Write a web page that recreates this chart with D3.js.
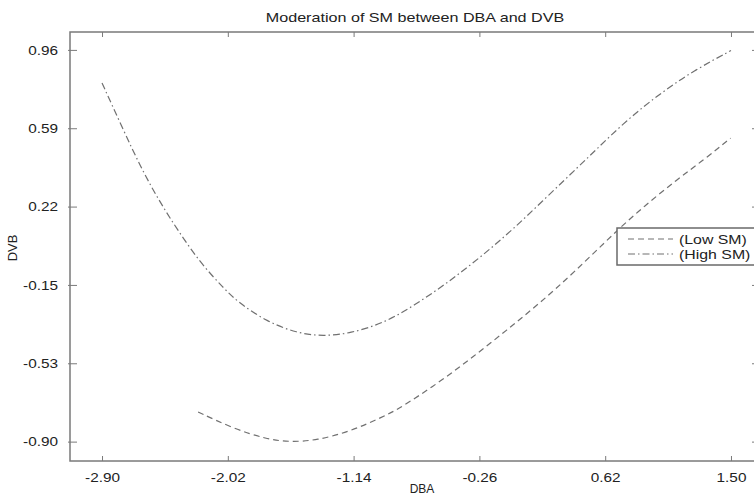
<!DOCTYPE html>
<html>
<head>
<meta charset="utf-8">
<script src="https://cdn.jsdelivr.net/npm/d3@7"></script>
<style>
  body { margin: 0; background: #fff; }
  svg { display: block; font-family: "Liberation Sans", Arial, sans-serif; }
  .axis path, .axis line { stroke: #7a7a7a; }
  .axis text { fill: #222; font-size: 13px; }
</style>
</head>
<body>
<svg id="chart" width="754" height="495"></svg>
<script>
// tick values and labels
var xTicks = [-2.90, -2.02, -1.14, -0.26, 0.62, 1.50];
var yTicks = [0.96, 0.588, 0.216, -0.156, -0.528, -0.90];
var yTickLabels = ["0.96", "0.59", "0.22", "-0.15", "-0.53", "-0.90"];

// Low SM (dashed)
var lowX = [-2.228, -1.981, -1.747, -1.584, -1.397, -1.164, -0.931, -0.814, -0.534, -0.301, -0.067, 0.166, 0.400, 0.705, 0.890, 1.123, 1.310, 1.497];
var lowY = [-0.759, -0.838, -0.889, -0.902, -0.894, -0.852, -0.781, -0.741, -0.615, -0.496, -0.370, -0.240, -0.098, 0.105, 0.216, 0.345, 0.438, 0.541];

// High SM (dash-dot)
var highX = [-2.90, -2.751, -2.634, -2.517, -2.377, -2.214, -2.051, -1.946, -1.747, -1.537, -1.351, -1.164, -0.931, -0.721, -0.487, -0.254, -0.021, 0.213, 0.446, 0.539, 0.773, 1.006, 1.240, 1.50];
var highY = [0.803, 0.580, 0.410, 0.262, 0.110, -0.050, -0.170, -0.240, -0.330, -0.385, -0.400, -0.386, -0.338, -0.256, -0.148, -0.025, 0.110, 0.263, 0.414, 0.475, 0.628, 0.754, 0.862, 0.957];

var legendLabels = ["(Low SM)", "(High SM)"];

var svg = d3.select("#chart"),
    margin = {top: 32, right: -3, bottom: 34, left: 70},
    width = +svg.attr("width") - margin.left - margin.right,
    height = +svg.attr("height") - margin.top - margin.bottom,
    g = svg.append("g").attr("transform", "translate(" + margin.left + "," + margin.top + ")");

var x = d3.scaleLinear()
    .domain([-3.124, 1.682])
    .range([0, width]);

var y = d3.scaleLinear()
    .domain([-0.992, 1.045])
    .range([height, 0]);

// stretch text horizontally, the picture is a bit wider than tall
function stretch(sel, k) {
    sel.each(function () {
        var len = this.getComputedTextLength();
        d3.select(this).attr("textLength", len * k).attr("lengthAdjust", "spacingAndGlyphs");
    });
}

// box with inward ticks
g.append("rect")
    .attr("width", width)
    .attr("height", height)
    .attr("fill", "none")
    .attr("stroke", "#7a7a7a")
    .attr("stroke-width", 1.5);

var xb = g.append("g")
    .attr("class", "axis")
    .attr("transform", "translate(0," + height + ")")
    .call(d3.axisBottom(x).tickValues(xTicks).tickSize(-5).tickPadding(12)
        .tickFormat(function (d) { return d.toFixed(2); }));
xb.select(".domain").remove();

var xt = g.append("g")
    .attr("class", "axis")
    .call(d3.axisTop(x).tickValues(xTicks).tickSize(-5).tickFormat(""));
xt.select(".domain").remove();

var yl = g.append("g")
    .attr("class", "axis")
    .call(d3.axisLeft(y).tickValues(yTicks).tickSize(-7).tickPadding(12)
        .tickFormat(function (d, i) { return yTickLabels[i]; }));
yl.select(".domain").remove();
yl.selectAll(".tick line").attr("x1", -2);

var yr = g.append("g")
    .attr("class", "axis")
    .attr("transform", "translate(" + width + ",0)")
    .call(d3.axisRight(y).tickValues(yTicks).tickSize(-5).tickFormat(""));
yr.select(".domain").remove();

stretch(xb.selectAll("text"), 1.18);
stretch(yl.selectAll("text"), 1.18);

var line = d3.line()
    .curve(d3.curveBasis)
    .x(function (d) { return x(d[0]); })
    .y(function (d) { return y(d[1]); });

var lowData = d3.zip(lowX, lowY);
var highData = d3.zip(highX, highY);

var dashes = ["6,4", "7,3,1.5,3"];

g.append("path")
    .datum(lowData)
    .attr("d", line)
    .attr("fill", "none")
    .attr("stroke", "#707070")
    .attr("stroke-width", 1.2)
    .attr("stroke-dasharray", dashes[0]);

g.append("path")
    .datum(highData)
    .attr("d", line)
    .attr("fill", "none")
    .attr("stroke", "#707070")
    .attr("stroke-width", 1.2)
    .attr("stroke-dasharray", dashes[1]);

// title and axis labels
var title = svg.append("text")
    .attr("x", 415)
    .attr("y", 22)
    .attr("text-anchor", "middle")
    .attr("font-size", 13)
    .attr("fill", "#222")
    .text("Moderation of SM between DBA and DVB");
stretch(title, 1.24);

svg.append("text")
    .attr("x", 422)
    .attr("y", 493)
    .attr("text-anchor", "middle")
    .attr("font-size", 12)
    .attr("fill", "#222")
    .text("DBA");

svg.append("text")
    .attr("transform", "translate(17,248) rotate(-90)")
    .attr("text-anchor", "middle")
    .attr("font-size", 13)
    .attr("fill", "#222")
    .text("DVB");

// legend
var lg = svg.append("g").attr("transform", "translate(617,228)");
lg.append("rect")
    .attr("width", 140)
    .attr("height", 37)
    .attr("fill", "#fff")
    .attr("stroke", "#6a6a6a")
    .attr("stroke-width", 1.5);

var items = lg.selectAll("g.item")
    .data(legendLabels)
    .enter()
    .append("g")
    .attr("class", "item")
    .attr("transform", function (d, i) { return "translate(0," + (11 + i * 15) + ")"; });

items.append("line")
    .attr("x1", 11)
    .attr("x2", 56)
    .attr("stroke", "#707070")
    .attr("stroke-width", 1.2)
    .attr("stroke-dasharray", function (d, i) { return dashes[i]; });

var lt = items.append("text")
    .attr("x", 62)
    .attr("y", 5)
    .attr("font-size", 13)
    .attr("fill", "#222")
    .text(function (d) { return d; });
stretch(lt, 1.22);
</script>
</body>
</html>
